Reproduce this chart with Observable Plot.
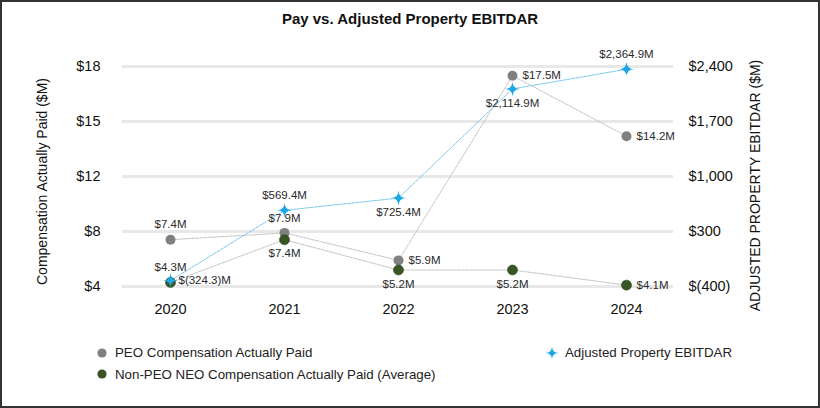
<!DOCTYPE html>
<html><head><meta charset="utf-8">
<script src="https://cdn.jsdelivr.net/npm/d3@7"></script>
<script src="https://cdn.jsdelivr.net/npm/@observablehq/plot@0.6"></script>
<style>
body{margin:0;background:#fff;font-family:"Liberation Sans",Arial,sans-serif;}
#wrap{position:relative;width:820px;height:408px;overflow:hidden;background:#fff;}
#frame{position:absolute;left:0;top:0;width:820px;height:408px;box-sizing:border-box;border:2px solid #333;pointer-events:none;}
#title{position:absolute;left:0;top:10px;width:820px;text-align:center;font-weight:bold;font-size:15px;color:#111;line-height:18px;}
#chart{position:absolute;left:0;top:0;}
.leg{position:absolute;display:flex;align-items:center;height:16px;font-size:13.3px;color:#222;white-space:nowrap;}
.leg svg{display:block;}
</style></head><body>
<div id="wrap"><div id="chart"></div><div id="title">Pay vs. Adjusted Property EBITDAR</div><div id="legend"></div><div id="frame"></div></div>
<script>
// ---- data ----
const years = ["2020", "2021", "2022", "2023", "2024"];
const peoCAP = [7.4, 7.9, 5.9, 17.5, 14.2];        // PEO Compensation Actually Paid ($M)
const neoCAP = [4.3, 7.4, 5.2, 5.2, 4.1];          // Non-PEO NEO CAP (Average) ($M)
const ebitdar = [-324.3, 569.4, 725.4, 2114.9, 2364.9]; // Adjusted Property EBITDAR ($M)
const leftTicks = [4, 8, 12, 15, 18];
const rightTicks = [-400, 300, 1000, 1700, 2400];

// ---- label placement (layout) ----
const peoPlace = ["top", "top", "right", "right", "right"];
const neoPlace = ["top", "bottom", "bottom", "bottom", "right"];
const ebPlace  = ["right", "top", "bottom", "bottom", "top"];

const C_PEO = "#808080", C_NEO = "#375623", C_EB = "#1ea6e6";
const FONT = "'Liberation Sans', Arial, sans-serif";

// both axes share evenly spaced tick slots 0..4
const idx = d3.range(leftTicks.length);
const leftIndex = d3.scaleLinear(leftTicks, idx);
const rightIndex = d3.scaleLinear([rightTicks[0], rightTicks[rightTicks.length - 1]], [0, idx.length - 1]);

const fmtM = v => v < 0 ? `$(${d3.format(",.1f")(-v)})M` : `$${d3.format(",.1f")(v)}M`;
const fmtR = v => v < 0 ? `$(${d3.format(",")(-v)})` : `$${d3.format(",")(v)}`;

const peo = years.map((y, i) => ({year: y, v: leftIndex(peoCAP[i]), label: fmtM(peoCAP[i]), place: peoPlace[i]}));
const neo = years.map((y, i) => ({year: y, v: leftIndex(neoCAP[i]), label: fmtM(neoCAP[i]), place: neoPlace[i]}));
const eb  = years.map((y, i) => ({year: y, v: rightIndex(ebitdar[i]), label: fmtM(ebitdar[i]), place: ebPlace[i]}));

const sparkle = {
  draw(ctx, size) {
    const r = Math.sqrt(size / Math.PI), k = r * 0.04;
    ctx.moveTo(0, -r);
    ctx.quadraticCurveTo(k, -k, r, 0);
    ctx.quadraticCurveTo(k, k, 0, r);
    ctx.quadraticCurveTo(-k, k, -r, 0);
    ctx.quadraticCurveTo(-k, -k, 0, -r);
    ctx.closePath();
  }
};

function labels(data, offs) {
  const o = {top: {dy: -15}, bottom: {dy: 14}, right: {dx: 10, textAnchor: "start"}};
  return ["top", "bottom", "right"].map(p => Plot.text(data.filter(d => d.place === p), {
    x: "year", y: "v", text: "label", fontSize: 11.5, fill: "#2a2a2a",
    textAnchor: "middle", ...o[p], ...(offs && offs[p] || {})
  }));
}

const chart = Plot.plot({
  width: 820, height: 330,
  marginLeft: 122, marginRight: 147, marginTop: 66, marginBottom: 44,
  style: {fontFamily: FONT, background: "transparent", overflow: "visible"},
  x: {type: "point", domain: years, padding: 0.41},
  y: {domain: [0, idx.length - 1]},
  marks: [
    Plot.ruleY(idx, {stroke: "#e8e8e8", strokeWidth: 3}),
    Plot.axisY({anchor: "left", ticks: idx, tickFormat: i => "$" + leftTicks[i], tickSize: 0, tickPadding: 22, fontSize: 14.5, color: "#111", label: null}),
    Plot.axisY({anchor: "right", ticks: idx, tickFormat: i => fmtR(rightTicks[i]), tickSize: 0, tickPadding: 15, fontSize: 14.5, color: "#111", label: null}),
    Plot.axisX({tickSize: 0, tickPadding: 17, fontSize: 14.5, color: "#111", label: null}),
    Plot.text(["Compensation Actually Paid ($M)"], {frameAnchor: "left", textAnchor: "middle", text: d => d, rotate: -90, dx: -80, dy: 5, fontSize: 14, fill: "#111"}),
    Plot.text(["ADJUSTED PROPERTY EBITDAR ($M)"], {frameAnchor: "right", textAnchor: "middle", text: d => d, rotate: -90, dx: 82, dy: 9, fontSize: 14, fill: "#111"}),
    Plot.line(peo, {x: "year", y: "v", stroke: "#c4c4c4", strokeWidth: 1, strokeDasharray: "3,1.2"}),
    Plot.line(neo, {x: "year", y: "v", stroke: "#c4c4c4", strokeWidth: 1, strokeDasharray: "3,1.2"}),
    Plot.line(eb, {x: "year", y: "v", stroke: "#7cc6ee", strokeWidth: 1, strokeDasharray: "3,1.2"}),
    Plot.dot(peo, {x: "year", y: "v", r: 5, fill: C_PEO}),
    Plot.dot(neo, {x: "year", y: "v", r: 5, fill: C_NEO, stroke: "#2a4519", strokeWidth: 0.6}),
    Plot.dot(eb, {x: "year", y: "v", r: 7.5, symbol: sparkle, fill: C_EB}),
    ...labels(peo),
    ...labels(neo),
    ...labels(eb, {right: {dx: 8}})
  ]
});
document.getElementById("chart").appendChild(chart);

// ---- legend ----
const legendItems = [
  {label: "PEO Compensation Actually Paid", color: C_PEO, shape: "circle", left: 96, cy: 352.7},
  {label: "Non-PEO NEO Compensation Actually Paid (Average)", color: C_NEO, shape: "circle", left: 96, cy: 374.3},
  {label: "Adjusted Property EBITDAR", color: C_EB, shape: "star", left: 545, cy: 352.7}
];
const leg = document.getElementById("legend");
for (const it of legendItems) {
  const div = document.createElement("div");
  div.className = "leg";
  div.style.left = it.left + "px";
  div.style.top = (it.cy - 8) + "px";
  let svg;
  if (it.shape === "circle") {
    svg = `<svg width="12" height="16"><circle cx="6" cy="8" r="4.6" fill="${it.color}"/></svg>`;
    div.style.gap = "7px";
  } else {
    const p = d3.path(); sparkle.draw(p, Math.PI * 6.5 * 6.5);
    svg = `<svg width="14" height="16"><path transform="translate(7,8)" d="${p.toString()}" fill="${it.color}"/></svg>`;
    div.style.gap = "6px";
  }
  div.innerHTML = svg + `<span>${it.label}</span>`;
  leg.appendChild(div);
}
</script></body></html>
